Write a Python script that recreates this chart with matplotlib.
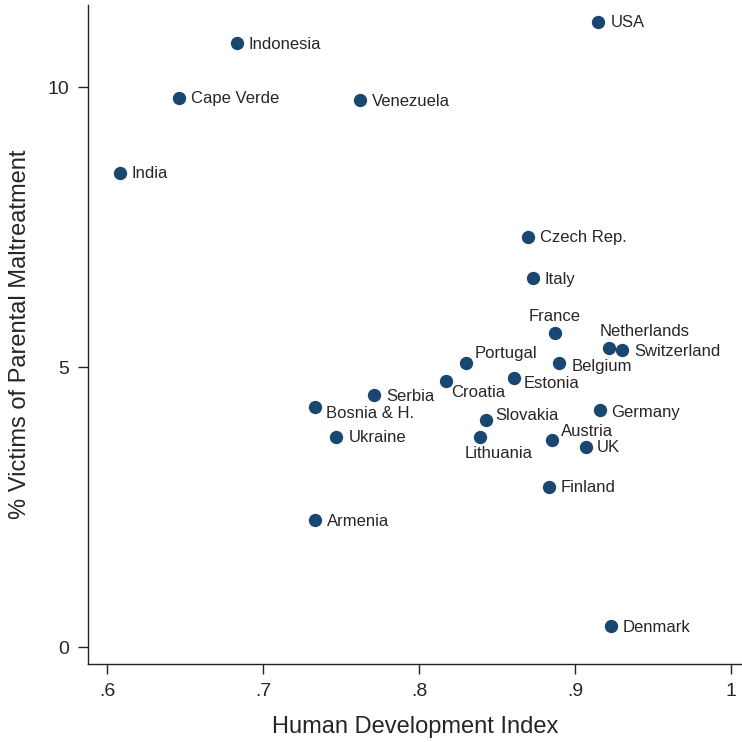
import numpy as np
import matplotlib
matplotlib.use('Agg')
import matplotlib.pyplot as plt

plt.rcParams['font.family'] = ['Liberation Sans', 'DejaVu Sans']

# HDI vs. share of victims of parental maltreatment, by country
countries = ['USA', 'Indonesia', 'Cape Verde', 'Venezuela', 'India',
             'Czech Rep.', 'Italy', 'France', 'Netherlands', 'Switzerland',
             'Portugal', 'Belgium', 'Croatia', 'Estonia', 'Serbia',
             'Bosnia & H.', 'Germany', 'Slovakia', 'Austria', 'Ukraine',
             'Lithuania', 'UK', 'Finland', 'Armenia', 'Denmark']
hdi = [0.915, 0.683, 0.646, 0.762, 0.608,
       0.870, 0.873, 0.887, 0.922, 0.930,
       0.830, 0.890, 0.817, 0.861, 0.771,
       0.733, 0.916, 0.843, 0.885, 0.747,
       0.839, 0.907, 0.883, 0.733, 0.923]
victims = [11.17, 10.79, 9.81, 9.77, 8.47,
           7.33, 6.59, 5.61, 5.35, 5.30,
           5.08, 5.08, 4.75, 4.81, 4.50,
           4.29, 4.23, 4.05, 3.70, 3.76,
           3.76, 3.58, 2.87, 2.27, 0.37]

# label offsets in pixels (dx, dy, ha); anything missing goes to the right
label_pos = {
    'France': (0, 17, 'center'),
    'Portugal': (9, 9, 'left'),
    'Croatia': (6, -11, 'left'),
    'Estonia': (9, -6, 'left'),
    'Belgium': (12, -4, 'left'),
    'Serbia': (12, -1, 'left'),
    'Bosnia & H.': (11, -6, 'left'),
    'Slovakia': (9, 5, 'left'),
    'Lithuania': (-15, -17, 'left'),
    'Austria': (9, 9, 'left'),
    'Netherlands': (-10, 16, 'left'),
    'Switzerland': (12, -1, 'left'),
    'Germany': (11, -2, 'left'),
    'UK': (11, -1, 'left'),
}

navy = '#1a476f'
txt = '#262626'

fig = plt.figure(figsize=(7.42, 7.42), dpi=100)
ax = fig.add_axes([88 / 742, 78 / 742, 654 / 742, 659 / 742])

ax.scatter(hdi, victims, s=92, color=navy, zorder=3, linewidths=0)
for name, xv, yv in zip(countries, hdi, victims):
    dx, dy, ha = label_pos.get(name, (12, -1, 'left'))
    ax.annotate(name, (xv, yv), xytext=(dx, dy), textcoords='offset pixels',
                ha=ha, va='center', fontsize=12, color=txt)

ax.set_xlim(0.5878, 1.007)
ax.set_ylim(-0.30, 11.47)
ax.set_xticks([0.6, 0.7, 0.8, 0.9, 1.0])
ax.set_xticklabels(['.6', '.7', '.8', '.9', '1'])
ax.set_yticks([0, 5, 10])
ax.set_yticklabels(['0', '5', '10'])

for side in ['top', 'right']:
    ax.spines[side].set_visible(False)
for side in ['left', 'bottom']:
    ax.spines[side].set_linewidth(1.0)
    ax.spines[side].set_color('#222222')

ax.tick_params(axis='both', direction='out', length=7.5, width=1.0,
               color='#222222', labelsize=14, labelcolor=txt)
ax.tick_params(axis='x', pad=6)
ax.tick_params(axis='y', pad=6)

ax.set_xlabel('Human Development Index', fontsize=17, color=txt, labelpad=12)
ax.set_ylabel('% Victims of Parental Maltreatment', fontsize=17, color=txt,
              labelpad=12)

fig.savefig('out.png', dpi=100)
